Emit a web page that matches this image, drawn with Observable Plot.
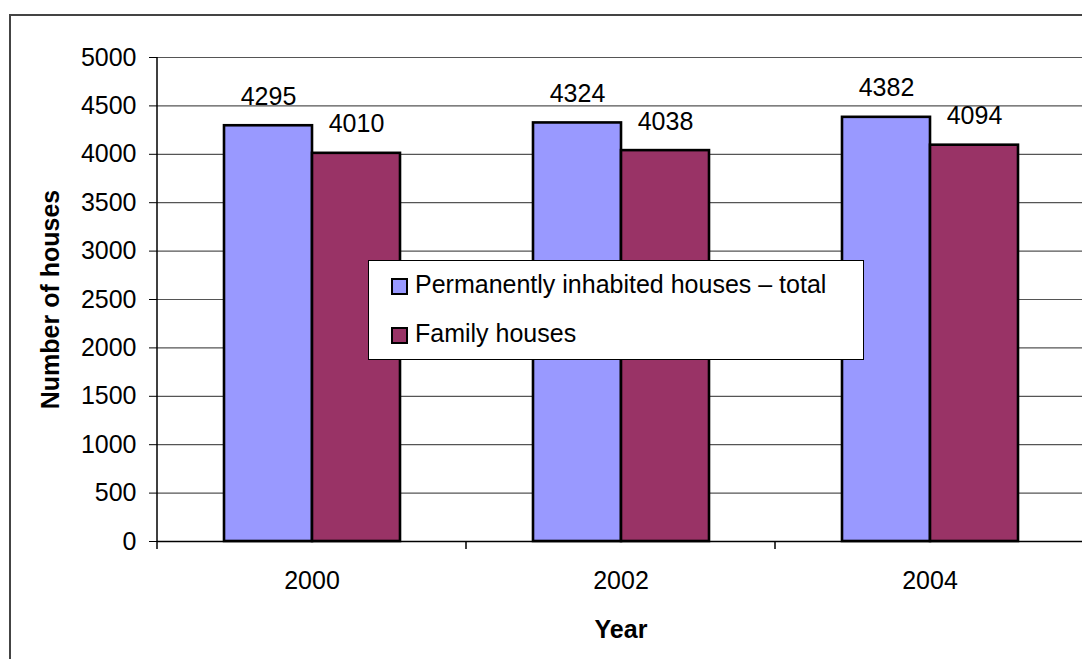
<!DOCTYPE html>
<html><head><meta charset="utf-8">
<script src="https://cdn.jsdelivr.net/npm/d3@7"></script>
<script src="https://cdn.jsdelivr.net/npm/@observablehq/plot@0.6"></script>
<style>
html,body{margin:0;padding:0;background:#fff;overflow:hidden;width:1082px;height:659px;}
#wrap{position:relative;width:1082px;height:659px;overflow:hidden;font-family:"Liberation Sans",Arial,sans-serif;}
#border{position:absolute;left:9px;top:14px;width:1300px;height:900px;border:2px solid #444;box-sizing:border-box;}
#chart{position:absolute;left:0;top:0;width:1100px;}
#chart svg{max-width:none !important;}
#legend{position:absolute;left:368px;top:260px;width:496px;height:100px;border:1px solid #000;background:#fff;box-sizing:border-box;font-size:25px;color:#000;}
.sw{position:absolute;width:17px;height:17px;border:2px solid #000;box-sizing:border-box;}
.lt{position:absolute;line-height:25px;white-space:nowrap;}
</style></head><body>
<div id="wrap"><div id="border"></div><div id="chart"></div><div id="legend"></div></div>
<script>
const years = ["2000", "2002", "2004"];
const seriesNames = ["Permanently inhabited houses – total", "Family houses"];
const totalHouses = [4295, 4324, 4382];
const familyHouses = [4010, 4038, 4094];
const yTicks = [0, 500, 1000, 1500, 2000, 2500, 3000, 3500, 4000, 4500, 5000];
const colors = ["#9999ff", "#993366"];

const data = years.flatMap((yr, i) => [
  {year: yr, series: seriesNames[0], value: totalHouses[i]},
  {year: yr, series: seriesNames[1], value: familyHouses[i]}
]);

const chart = Plot.plot({
  width: 1100, height: 659,
  marginLeft: 157, marginRight: 16, marginTop: 57, marginBottom: 118,
  style: {fontFamily: '"Liberation Sans", Arial, sans-serif', fontSize: "25px", color: "#000", background: "transparent", overflow: "visible", maxWidth: "none"},
  fx: {domain: years, padding: 0, label: "Year", labelAnchor: "center", labelOffset: 96, tickSize: 0, tickPadding: 30},
  x: {domain: seriesNames, paddingInner: 0, paddingOuter: 0.745, axis: null},
  y: {domain: [0, 5000], ticks: yTicks, tickFormat: d => String(d), tickSize: 8, tickPadding: 13, label: "Number of houses", labelArrow: "none", labelAnchor: "center", labelOffset: 116},
  color: {domain: seriesNames, range: colors},
  marks: [
    Plot.ruleY(yTicks.slice(1), {stroke: "#555", strokeWidth: 1.2}),
    Plot.barY(data, {fx: "year", x: "series", y: "value", fill: "series", stroke: "#000", strokeWidth: 2.6}),
    Plot.text(data, {fx: "year", x: "series", y: "value", text: d => String(d.value), dy: -29, fontSize: 25, fill: "#000"}),
    Plot.ruleY([0], {stroke: "#000", strokeWidth: 1.5})
  ]
});
document.getElementById("chart").appendChild(chart);

const svg = d3.select(chart);
svg.selectAll('g[aria-label="y-axis label"], g[aria-label="fx-axis label"]').attr("font-weight", "bold");
svg.selectAll('g[aria-label="y-axis label"] text').text("Number of houses");
const fxs = chart.scale("fx"), ys = chart.scale("y");
const g = svg.append("g").attr("stroke", "#000").attr("stroke-width", 1.5);
const x0 = fxs.apply(years[0]);
g.append("line").attr("x1", x0).attr("x2", x0).attr("y1", ys.apply(5000)).attr("y2", ys.apply(0));
years.concat([null]).forEach((yr) => {
  const xx = yr === null ? fxs.apply(years[years.length - 1]) + fxs.bandwidth : fxs.apply(yr);
  g.append("line").attr("x1", xx).attr("x2", xx).attr("y1", ys.apply(0)).attr("y2", ys.apply(0) + 8);
});

const legend = d3.select("#legend");
seriesNames.forEach((name, i) => {
  legend.append("div").attr("class", "sw").style("left", "22px").style("top", (17 + i * 49) + "px").style("background", colors[i]);
  legend.append("div").attr("class", "lt").style("left", "46px").style("top", (11 + i * 49) + "px").text(name);
});
</script>
</body></html>
